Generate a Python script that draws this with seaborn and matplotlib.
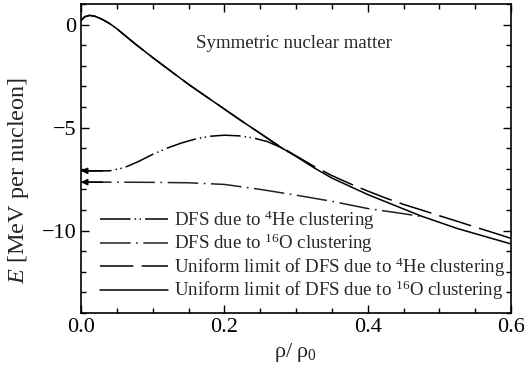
import matplotlib
matplotlib.use("Agg")
import matplotlib.pyplot as plt
import seaborn as sns
import pandas as pd
from matplotlib.ticker import MultipleLocator

# Energy per nucleon of symmetric nuclear matter versus density
rho_uniform = [0.0, 0.005, 0.012, 0.02, 0.03, 0.04, 0.05, 0.075, 0.1, 0.125, 0.15,
               0.175, 0.2, 0.225, 0.25, 0.275, 0.3, 0.325, 0.35, 0.375, 0.4, 0.425,
               0.45, 0.475, 0.5, 0.525, 0.55, 0.575, 0.6]
E_uniform_O16 = [0.2, 0.38, 0.45, 0.4, 0.25, 0.05, -0.2, -0.92, -1.6, -2.25, -2.9,
                 -3.5, -4.1, -4.7, -5.28, -5.88, -6.4, -6.95, -7.45, -7.85, -8.25, -8.6,
                 -8.95, -9.3, -9.6, -9.9, -10.15, -10.4, -10.65]
E_uniform_He4 = [0.2, 0.38, 0.45, 0.4, 0.25, 0.05, -0.2, -0.92, -1.6, -2.25, -2.9,
                 -3.5, -4.1, -4.7, -5.28, -5.86, -6.37, -6.88, -7.33, -7.72, -8.08, -8.42,
                 -8.73, -9.0, -9.28, -9.55, -9.83, -10.1, -10.38]

rho_dfs_He4 = [0.0, 0.04, 0.06, 0.08, 0.1, 0.12, 0.14, 0.16, 0.18, 0.2, 0.22, 0.24,
               0.26, 0.278, 0.3]
E_dfs_He4 = [-7.1, -7.1, -6.95, -6.65, -6.3, -6.0, -5.75, -5.55, -5.42, -5.37, -5.4,
             -5.5, -5.68, -5.95, -6.4]

rho_dfs_O16 = [0.0, 0.05, 0.1, 0.15, 0.2, 0.25, 0.3, 0.35, 0.4, 0.45, 0.48]
E_dfs_O16 = [-7.65, -7.65, -7.66, -7.68, -7.76, -8.0, -8.28, -8.58, -8.93, -9.18, -9.35]

labels = [r"DFS due to $^{4}$He clustering",
          r"DFS due to $^{16}$O clustering",
          r"Uniform limit of DFS due to $^{4}$He clustering",
          r"Uniform limit of DFS due to $^{16}$O clustering"]

sns.set_theme(style="ticks")
plt.rcParams["font.family"] = ["Liberation Serif", "DejaVu Serif"]
plt.rcParams["mathtext.fontset"] = "custom"
plt.rcParams["mathtext.rm"] = "Liberation Serif"
plt.rcParams["mathtext.it"] = "Liberation Serif:italic"
plt.rcParams["mathtext.bf"] = "Liberation Serif:bold"
plt.rcParams["lines.scale_dashes"] = False

fig = plt.figure(figsize=(5.24, 3.66), dpi=100)
ax = fig.add_axes([0.1546, 0.145, 0.8206, 0.844])

lw = 1.1
series = [
    (rho_dfs_He4, E_dfs_He4, labels[0], (22, 3, 1, 2.5, 1, 3), "black"),
    (rho_dfs_O16, E_dfs_O16, labels[1], (22, 4, 1.2, 4), "#222222"),
    (rho_uniform, E_uniform_He4, labels[2], (24, 6), "black"),
    (rho_uniform, E_uniform_O16, labels[3], None, "black"),
]
for xs, ys, lab, dash, col in series:
    df = pd.DataFrame({"rho": xs, "E": ys})
    sns.lineplot(data=df, x="rho", y="E", ax=ax, color=col, lw=lw, label=lab)
    line = ax.lines[-1]
    if dash is not None:
        line.set_dashes(dash)

# arrows marking the zero-density limits of the DFS curves
for e0 in (E_dfs_He4[0], E_dfs_O16[0]):
    ax.annotate("", xy=(0.0, e0), xytext=(0.03, e0),
                arrowprops=dict(arrowstyle="-|>", color="black", lw=lw,
                                mutation_scale=9, shrinkA=0, shrinkB=0))

ax.set_xlim(0.0, 0.6)
ax.set_ylim(-14, 1)
ax.xaxis.set_major_locator(MultipleLocator(0.2))
ax.xaxis.set_minor_locator(MultipleLocator(0.05))
ax.yaxis.set_major_locator(MultipleLocator(5))
ax.yaxis.set_minor_locator(MultipleLocator(1))
ax.xaxis.set_major_formatter(matplotlib.ticker.FormatStrFormatter("%.1f"))
ax.tick_params(which="both", direction="in", top=True, right=True,
               labelsize=16, width=1.0, colors="black")
ax.tick_params(which="major", length=6)
ax.tick_params(which="minor", length=3.5)
for sp in ax.spines.values():
    sp.set_linewidth(1.2)
    sp.set_color("black")

ax.set_xlabel(r"$\mathrm{\rho / \ \rho_0}$", fontsize=16, labelpad=3)
ax.set_ylabel(r"$E$ [MeV per nucleon]", fontsize=17.5)
ax.yaxis.set_label_coords(-0.116, 0.43)

ax.text(0.16, -0.9, "Symmetric nuclear matter", fontsize=13.6, ha="left", va="center")

leg = ax.legend(loc="lower left", bbox_to_anchor=(0.045, 0.035), frameon=False,
                fontsize=13.6, handlelength=3.6, handletextpad=0.3,
                labelspacing=0.0, borderpad=0, borderaxespad=0)

fig.savefig("out.png", dpi=100)
